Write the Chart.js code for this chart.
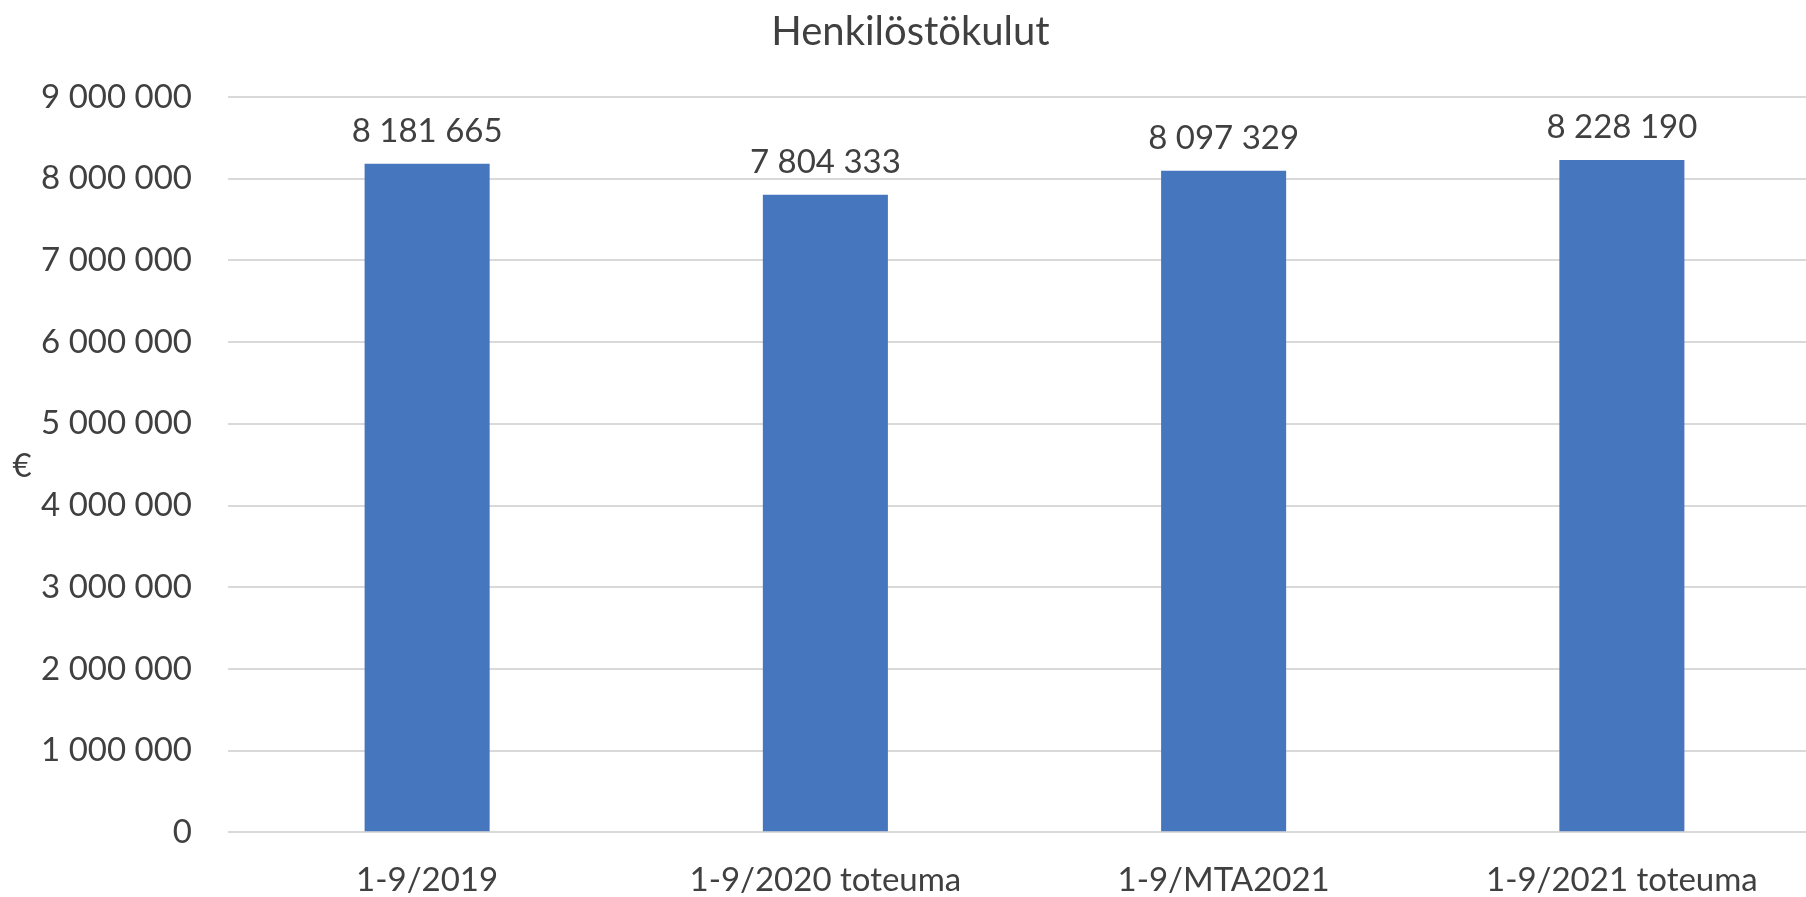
<!DOCTYPE html>
<html>
<head>
<meta charset="utf-8">
<script src="https://cdn.jsdelivr.net/npm/chart.js@4"></script>
<style>
  html, body { margin: 0; padding: 0; background: #fff; overflow: hidden; }
  #wrap { width: 1821px; height: 897px; position: relative; }
</style>
</head>
<body>
<div id="wrap"><canvas id="chart"></canvas></div>
<script>
const categories = ['1-9/2019', '1-9/2020 toteuma', '1-9/MTA2021', '1-9/2021 toteuma'];
const costs = [8181665, 7804333, 8097329, 8228190];
const yMax = 9000000;
const yStep = 1000000;

const textColor = '#404040';
const fontFamily = 'Lato, "Open Sans", sans-serif';

// numbers like "8 181 665"
function fmt(v) {
    return String(Math.round(v)).replace(/\B(?=(\d{3})+(?!\d))/g, ' ');
}

// value labels above bars
const barLabels = {
    id: 'barLabels',
    afterDatasetsDraw(chart) {
        const ctx = chart.ctx;
        const meta = chart.getDatasetMeta(0);
        ctx.save();
        ctx.font = '33px ' + fontFamily;
        ctx.fillStyle = textColor;
        ctx.textAlign = 'center';
        ctx.textBaseline = 'alphabetic';
        meta.data.forEach((bar, i) => {
            ctx.fillText(fmt(costs[i]), bar.x, bar.y - 22);
        });
        ctx.restore();
    }
};

// upright euro sign as y axis title
const euroTitle = {
    id: 'euroTitle',
    afterDraw(chart) {
        const ctx = chart.ctx;
        const area = chart.chartArea;
        ctx.save();
        ctx.font = '33px ' + fontFamily;
        ctx.fillStyle = textColor;
        ctx.textAlign = 'center';
        ctx.textBaseline = 'middle';
        ctx.fillText('€', 22, (area.top + area.bottom) / 2 + 2);
        ctx.restore();
    }
};

const ctx = document.getElementById('chart').getContext('2d');
new Chart(ctx, {
    type: 'bar',
    data: {
        labels: categories,
        datasets: [{
            label: 'Henkilöstökulut',
            data: costs,
            backgroundColor: '#4677BE',
            categoryPercentage: 1,
            barPercentage: 0.314
        }]
    },
    options: {
        responsive: true,
        maintainAspectRatio: false,
        animation: false,
        layout: { padding: { left: 0, right: 0, top: 0, bottom: 0 } },
        plugins: {
            legend: { display: false },
            tooltip: { enabled: false },
            title: {
                display: true,
                text: 'Henkilöstökulut',
                color: textColor,
                font: { family: fontFamily, size: 40, weight: 'normal' },
                padding: { top: 8, bottom: 41 }
            }
        },
        scales: {
            x: {
                grid: { display: false, drawTicks: false },
                border: { display: false },
                ticks: {
                    color: textColor,
                    font: { family: fontFamily, size: 33 },
                    padding: 28,
                    maxRotation: 0
                },
                afterFit: s => { s.height = 64.7; }
            },
            y: {
                min: 0,
                max: yMax,
                grid: { color: '#D9D9D9', lineWidth: 2, drawTicks: false },
                border: { display: false },
                ticks: {
                    stepSize: yStep,
                    color: textColor,
                    font: { family: fontFamily, size: 33 },
                    padding: 36,
                    callback: v => fmt(v)
                },
                afterFit: s => { s.width = 228; }
            }
        }
    },
    plugins: [barLabels, euroTitle]
});
</script>
</body>
</html>
